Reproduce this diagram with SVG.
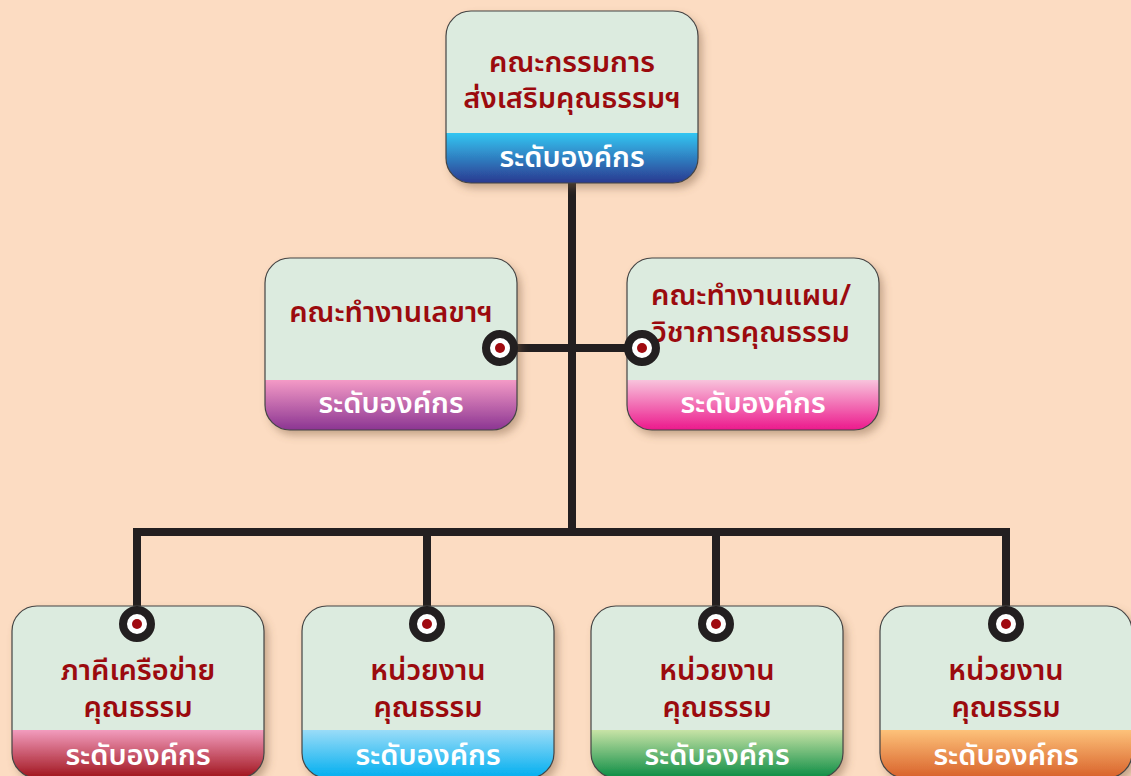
<svg xmlns="http://www.w3.org/2000/svg" width="1131" height="776" viewBox="0 0 1131 776">
<style>
.t{font-family:"Noto Sans Thai","Noto Sans","DejaVu Sans",sans-serif;font-size:29px;font-weight:600;fill:#9B0A0E;text-anchor:middle}
.b{font-family:"Noto Sans Thai","Noto Sans","DejaVu Sans",sans-serif;font-size:29px;font-weight:600;fill:#FFFFFF;text-anchor:middle}
.box{fill:#DCEBDF}
.edge{fill:none;stroke:#444;stroke-width:1.2}
.ln{fill:none;stroke:#231F20;stroke-width:8;stroke-linecap:butt}
.ring{fill:#FFFFFF;stroke:#231F20;stroke-width:8}
.dot{fill:#A00A10}
</style>
<defs>
<filter id="sh" x="-10%" y="-10%" width="125%" height="125%">
<feDropShadow dx="4" dy="5" stdDeviation="4" flood-color="#7a5a40" flood-opacity="0.45"/>
</filter>
<clipPath id="bc"><rect x="0" y="0" width="252" height="172" rx="25"/></clipPath>
<linearGradient id="gBlue" x1="0" y1="0" x2="0" y2="1"><stop offset="0" stop-color="#33C6F2"/><stop offset="1" stop-color="#2B3990"/></linearGradient>
<linearGradient id="gPurple" x1="0" y1="0" x2="0" y2="1"><stop offset="0" stop-color="#F49AC6"/><stop offset="1" stop-color="#8B3592"/></linearGradient>
<linearGradient id="gPink" x1="0" y1="0" x2="0" y2="1"><stop offset="0" stop-color="#F8C3DC"/><stop offset="1" stop-color="#EC198C"/></linearGradient>
<linearGradient id="gRed" x1="0" y1="0" x2="0" y2="1"><stop offset="0" stop-color="#F29CBE"/><stop offset="1" stop-color="#A0141C"/></linearGradient>
<linearGradient id="gCyan" x1="0" y1="0" x2="0" y2="1"><stop offset="0" stop-color="#9ADCF8"/><stop offset="1" stop-color="#00AEEF"/></linearGradient>
<linearGradient id="gGreen" x1="0" y1="0" x2="0" y2="1"><stop offset="0" stop-color="#C8E3A6"/><stop offset="1" stop-color="#0A8C44"/></linearGradient>
<linearGradient id="gOrange" x1="0" y1="0" x2="0" y2="1"><stop offset="0" stop-color="#FDC27A"/><stop offset="1" stop-color="#D8612A"/></linearGradient>
</defs>
<rect width="1131" height="776" fill="#FCDCC2"/>
<g id="connectors">
<path class="ln" d="M572 183 V532"/>
<path class="ln" d="M500 348 H642"/>
<path class="ln" d="M137 622 V532 H1006 V622"/>
<path class="ln" d="M427 532 V622"/>
<path class="ln" d="M716 532 V622"/>
</g>
<g id="n-top" transform="translate(446,11)">
<g filter="url(#sh)"><g clip-path="url(#bc)"><rect class="box" width="252" height="172"/><rect y="122" width="252" height="50" fill="url(#gBlue)"/></g></g>
<rect class="edge" width="252" height="172" rx="25"/>
<text class="t" x="126" y="61">คณะกรรมการ</text>
<text class="t" x="126" y="97">ส่งเสริมคุณธรรมฯ</text>
<text class="b" x="126" y="156">ระดับองค์กร</text>
</g>
<g id="n-secretary" transform="translate(265,258)">
<g filter="url(#sh)"><g clip-path="url(#bc)"><rect class="box" width="252" height="172"/><rect y="122" width="252" height="50" fill="url(#gPurple)"/></g></g>
<rect class="edge" width="252" height="172" rx="25"/>
<text class="t" x="126" y="64">คณะทำงานเลขาฯ</text>
<text class="b" x="126" y="155">ระดับองค์กร</text>
<circle class="ring" cx="235" cy="90" r="14"/><circle class="dot" cx="235" cy="90" r="5"/>
</g>
<g id="n-plan" transform="translate(627,258)">
<g filter="url(#sh)"><g clip-path="url(#bc)"><rect class="box" width="252" height="172"/><rect y="122" width="252" height="50" fill="url(#gPink)"/></g></g>
<rect class="edge" width="252" height="172" rx="25"/>
<text class="t" x="124" y="47">คณะทำงานแผน/</text>
<text class="t" x="124" y="84">วิชาการคุณธรรม</text>
<text class="b" x="126" y="155">ระดับองค์กร</text>
<circle class="ring" cx="15" cy="90" r="14"/><circle class="dot" cx="15" cy="90" r="5"/>
</g>
<g id="n-network" transform="translate(12,606)">
<g filter="url(#sh)"><g clip-path="url(#bc)"><rect class="box" width="252" height="172"/><rect y="124" width="252" height="48" fill="url(#gRed)"/></g></g>
<rect class="edge" width="252" height="172" rx="25"/>
<text class="t" x="126" y="74">ภาคีเครือข่าย</text>
<text class="t" x="126" y="111">คุณธรรม</text>
<text class="b" x="126" y="159">ระดับองค์กร</text>
<circle class="ring" cx="125" cy="18" r="14"/><circle class="dot" cx="125" cy="18" r="5"/>
</g>
<g id="n-unit1" transform="translate(302,606)">
<g filter="url(#sh)"><g clip-path="url(#bc)"><rect class="box" width="252" height="172"/><rect y="124" width="252" height="48" fill="url(#gCyan)"/></g></g>
<rect class="edge" width="252" height="172" rx="25"/>
<text class="t" x="126" y="74">หน่วยงาน</text>
<text class="t" x="126" y="111">คุณธรรม</text>
<text class="b" x="126" y="159">ระดับองค์กร</text>
<circle class="ring" cx="125" cy="18" r="14"/><circle class="dot" cx="125" cy="18" r="5"/>
</g>
<g id="n-unit2" transform="translate(591,606)">
<g filter="url(#sh)"><g clip-path="url(#bc)"><rect class="box" width="252" height="172"/><rect y="124" width="252" height="48" fill="url(#gGreen)"/></g></g>
<rect class="edge" width="252" height="172" rx="25"/>
<text class="t" x="126" y="74">หน่วยงาน</text>
<text class="t" x="126" y="111">คุณธรรม</text>
<text class="b" x="126" y="159">ระดับองค์กร</text>
<circle class="ring" cx="125" cy="18" r="14"/><circle class="dot" cx="125" cy="18" r="5"/>
</g>
<g id="n-unit3" transform="translate(880,606)">
<g filter="url(#sh)"><g clip-path="url(#bc)"><rect class="box" width="252" height="172"/><rect y="124" width="252" height="48" fill="url(#gOrange)"/></g></g>
<rect class="edge" width="252" height="172" rx="25"/>
<text class="t" x="126" y="74">หน่วยงาน</text>
<text class="t" x="126" y="111">คุณธรรม</text>
<text class="b" x="126" y="159">ระดับองค์กร</text>
<circle class="ring" cx="126" cy="18" r="14"/><circle class="dot" cx="126" cy="18" r="5"/>
</g>
</svg>
